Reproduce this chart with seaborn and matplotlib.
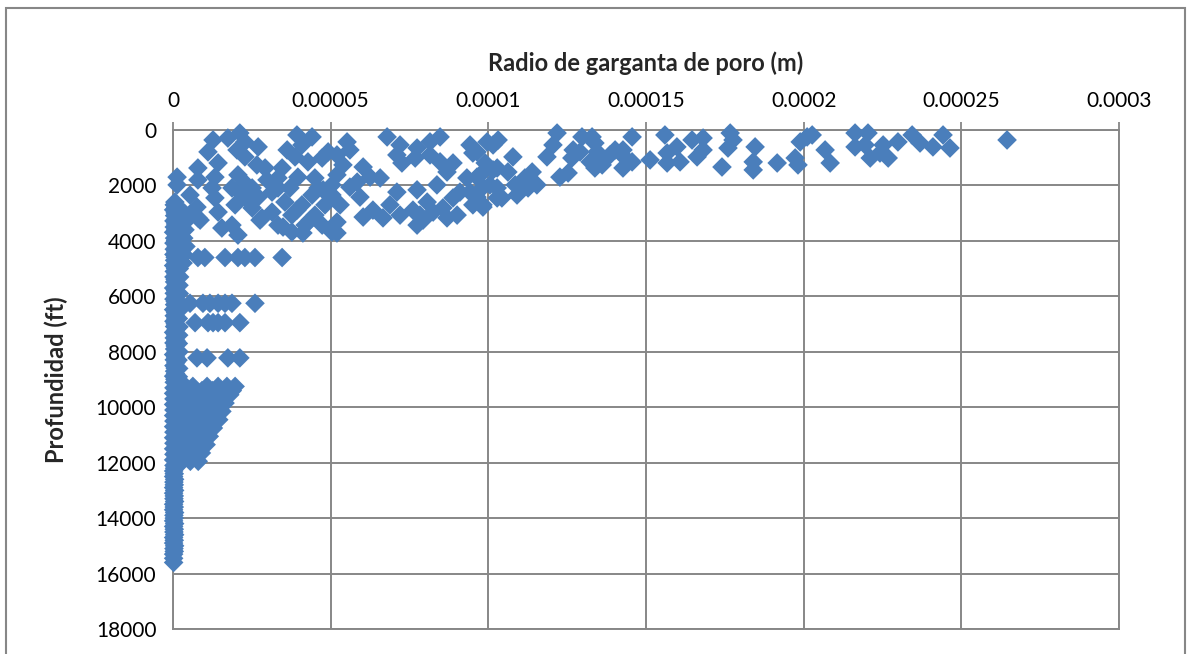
import numpy as np
import pandas as pd
import matplotlib
matplotlib.use("Agg")
import matplotlib.pyplot as plt
import matplotlib.patches as mpatches
import seaborn as sns

# ---------------- data (radius in micrometres, depth in ft) ----------------
shallow_r = [12.7, 17.4, 21.2, 22.8, 27.0, 20.3, 22.8, 11.1, 14.3, 1.3, 1.3, 7.9, 7.9, 13.3, 20.6,
             26.6, 29.2, 22.8, 34.6, 39.3, 40.9, 44.1, 36.2, 38.7, 42.8, 47.3, 49.2, 33.3, 39.6, 45.0,
             29.8,
             67.9, 55.2, 56.1, 52.0, 53.9, 60.3, 62.5, 65.7, 58.4, 52.0, 72.0, 71.0, 72.6, 77.4, 76.8,
             81.5, 84.7, 81.5, 84.7, 86.9, 99.6, 94.2, 96.4, 101.5, 102.8, 98.3, 88.8, 95.1, 99.0, 96.4,
             103.1, 107.8, 106.2, 111.6, 113.9, 121.8, 120.5, 118.6, 122.7, 125.3, 126.5, 126.9, 129.1,
             129.7, 132.9, 133.8, 134.5, 132.3, 133.8, 136.1, 138.6, 140.2, 142.7, 143.4, 142.7, 145.6,
             145.6, 151.3, 101.5,
             156.0, 156.7, 156.7, 159.8, 160.8, 164.6, 166.2, 168.1, 168.1, 174.1, 176.7, 177.6, 176.0,
             184.6, 184.0, 184.0, 191.6, 197.3, 198.2, 198.9, 201.1,
             202.7, 206.8, 208.4, 216.3, 220.4, 216.3, 219.5, 221.1, 225.2, 224.2, 226.8, 229.9, 234.4,
             236.9, 241.0, 244.2, 246.4, 264.5]
shallow_d = [360, 290, 110, 430, 610, 720, 970, 790, 1190, 1700, 1980, 1370, 1800, 1700, 1620,
             1260, 1370, 1910, 1370, 180, 540, 250, 720, 970, 1150, 1010, 790, 1730, 1700, 1730,
             1800,
             250, 430, 720, 900, 1260, 1335, 1700, 1730, 1880, 1620, 540, 900, 1190, 650, 1010,
             900, 250, 430, 1150, 1515, 430, 540, 790, 540, 1370, 1515, 1190, 830, 1190, 1700,
             360, 970, 1515, 1730, 1515, 110, 540, 970, 1700, 1550, 1010, 720, 790,
             250, 250, 470, 790, 1150, 1370, 1260, 900, 720, 720, 1010, 1370, 1150,
             250, 1080, 1440,
             180, 830, 1190, 610, 1150, 360, 970, 290, 720, 1335, 110, 360, 650,
             610, 1150, 1440, 1190, 1010, 1260, 430, 250,
             180, 720, 1190, 110, 110, 610, 540, 1010, 540, 830, 1010, 430, 180,
             470, 610, 180, 650, 360]

mid_r = [5.4, 0.6, 7.6, 7.9, 12.4, 13.3, 14.3, 15.5, 18.7, 19.7, 21.9, 18.7, 20.6, 25.1, 25.1,
         27.0, 28.2, 31.4, 31.4, 33.3, 35.5, 37.1, 37.7, 37.7, 40.9, 41.9, 44.1, 45.0, 47.3, 48.2,
         50.4, 50.4, 46.0, 33.3, 23.5, 34.9, 39.3, 41.2, 43.5, 47.6, 27.6, 8.6,
         50.4, 53.0, 59.3, 60.3, 63.4, 66.6, 71.0, 68.8, 72.0, 52.0, 52.0, 77.4, 78.3, 77.4, 80.6,
         83.7, 82.5, 85.6, 86.9, 90.1, 88.8, 91.0, 93.2, 94.2, 95.1, 98.3, 100.5, 102.8, 56.1,
         76.1, 79.3, 96.4, 98.3,
         102.8, 104.3, 108.5, 109.1, 112.6, 115.4, 98.3]
mid_d = [2345, 2600, 2780, 3170, 2090, 2450, 2960, 3535, 2090, 2700, 2345, 3430, 3790, 2090, 2810,
         2420, 3170, 2240, 2960, 3430, 2600, 2090, 3070, 3680, 2700, 3430, 2345, 3070, 3430, 2700,
         1980, 3680, 2090, 2090, 2525, 3500, 2890, 3715, 3250, 2160, 3250, 3250,
         2345, 2700, 2420, 3140, 2890, 3170, 2240, 2700, 3070, 3715, 3320, 2160, 3070, 3430, 2600,
         1980, 2960, 2810, 3170, 3070, 2450, 2240, 1730, 2240, 2700, 2700, 1980, 2450, 2060,
         2890, 3250, 2420, 2060,
         2090, 2450, 1980, 2345, 2090, 1980, 2780]

row_r = [7.9, 10.1, 16.5, 20.6, 22.8, 26.0, 34.6,
         5.4, 9.5, 11.7, 14.3, 16.5, 18.7, 26.0,
         7.0, 11.1, 12.7, 14.3, 16.5, 21.2,
         7.6, 10.8, 17.4, 21.2]
row_d = [4600, 4600, 4600, 4600, 4600, 4600, 4600,
         6250, 6250, 6250, 6250, 6250, 6250, 6250,
         6950, 6950, 6950, 6950, 6950, 6950,
         8220, 8220, 8220, 8220]

column_r = [0.4, 0.2, 0.5, 0.3, 0.4, 0.2, 0.5, 0.3, 0.4, 0.3, 0.5, 0.2, 0.4, 0.3, 0.5, 0.2, 0.4,
            0.3, 0.5, 0.2, 0.4, 0.3, 0.5, 0.2, 0.4, 0.3, 0.5, 0.2, 0.4, 0.3, 0.5, 0.2, 0.4, 0.3,
            0.2, 0.3, 0.2, 0.3, 0.2, 0.3, 0.2, 0.3, 0.2, 0.3, 0.2, 0.3, 0.2, 0.3, 0.2, 0.2, 0.3,
            0.2, 0.2, 0.3, 0.2, 0.2, 0.3, 0.2, 0.2, 0.3, 0.2, 0.2, 0.3, 0.2, 0.2, 0.2]
column_d = [2700, 2880, 3090, 3280, 3500, 3690, 3900, 4080, 4300, 4490, 4700, 4890, 5100, 5300,
            5480, 5700, 5890, 6100, 6300, 6480, 6700, 6900, 7090, 7300, 7500, 7680, 7900, 8100,
            8290, 8500, 8700, 8880, 9100, 9300, 9500, 9700, 9900, 10100, 10300, 10500, 10700,
            10900, 11100, 11300, 11500, 11700, 11900, 12100, 12300, 12500, 12700, 12900, 13100,
            13300, 13500, 13700, 13900, 14100, 14300, 14500, 14700, 14900, 15100, 15300, 15450,
            15600]

column3_r = [0.9, 0.7, 1.0, 0.8, 0.9, 1.1, 0.8, 1.0, 0.9, 0.7, 1.0, 0.8, 0.9, 0.7, 1.0, 0.8,
             0.9, 0.7, 1.0, 0.8, 0.9, 0.7, 1.0, 0.8, 0.9, 0.7, 1.0, 0.8, 0.9, 0.7, 0.8, 0.6,
             0.5, 0.4, 0.5, 0.4, 0.5, 0.4, 0.5, 0.4, 0.5, 0.4, 0.5, 0.4, 0.5, 0.4, 0.5, 0.4]
column3_d = [2790, 2990, 3190, 3390, 3590, 3790, 3990, 4190, 4390, 4590, 4790, 4990, 5190, 5390,
             5590, 5790, 5990, 6190, 6390, 6590, 6790, 6990, 7190, 7390, 7590, 7790, 7990, 8190,
             8390, 8590, 8790, 8990, 12200, 12400, 12600, 12800, 13000, 13200, 13400, 13600,
             13800, 14000, 14200, 14400, 14600, 14800, 15000, 15200]

column2_r = [2.6, 2.4, 2.7, 2.5, 2.3, 2.6, 2.2, 2.0, 2.1, 1.9, 2.0, 1.8, 2.0, 1.7, 1.9, 1.8,
             1.7, 1.9, 1.6, 1.8, 1.7, 1.6, 3.6, 4.0, 3.8, 3.4, 4.1, 3.5, 3.2]
column2_d = [2900, 3200, 3500, 3800, 4100, 4400, 4700, 5000, 5300, 5600, 5900, 6200, 6500, 6800,
             7100, 7400, 7700, 8000, 8300, 8600, 8900, 9200, 3000, 3300, 3600, 3900, 4200, 4500,
             4800]

blob_r = [4.0, 6.3, 10.8, 14.3, 17.1, 19.7,
          1.2, 4.0, 7.5, 11.0, 14.5, 18.0,
          1.0, 4.0, 7.5, 11.0, 14.0, 16.5,
          1.2, 4.0, 7.0, 10.0, 13.0, 15.5,
          1.0, 4.0, 7.0, 10.0, 12.5, 14.5,
          1.2, 4.0, 7.0, 10.0, 12.8,
          1.0, 3.5, 6.5, 9.5, 11.5,
          1.2, 3.5, 6.5, 9.0, 10.5,
          0.8, 3.0, 6.0, 9.0,
          1.0, 3.0, 5.5, 8.0,
          2.5, 5.8, 9.2, 12.6, 16.0, 18.8,
          2.6, 5.8, 9.2, 12.5, 15.3,
          2.6, 5.5, 8.5, 11.5, 14.2,
          2.5, 5.5, 8.5, 11.3, 13.5,
          2.4, 5.3, 8.3, 11.2,
          2.3, 5.0, 8.0, 10.5,
          2.2, 5.0, 7.8, 9.8,
          2.0, 4.5, 7.2]
blob_d = [9250, 9250, 9250, 9250, 9250, 9250,
          9550, 9550, 9550, 9550, 9550, 9550,
          9850, 9850, 9850, 9850, 9850, 9850,
          10150, 10150, 10150, 10150, 10150, 10150,
          10450, 10450, 10450, 10450, 10450, 10450,
          10750, 10750, 10750, 10750, 10750,
          11050, 11050, 11050, 11050, 11050,
          11350, 11350, 11350, 11350, 11350,
          11650, 11650, 11650, 11650,
          11950, 11950, 11950, 11950,
          9400, 9400, 9400, 9400, 9400, 9400,
          9700, 9700, 9700, 9700, 9700,
          10000, 10000, 10000, 10000, 10000,
          10300, 10300, 10300, 10300, 10300,
          10600, 10600, 10600, 10600,
          10900, 10900, 10900, 10900,
          11200, 11200, 11200, 11200,
          11500, 11500, 11500]

x_ticks = [0, 0.00005, 0.0001, 0.00015, 0.0002, 0.00025, 0.0003]
x_tick_labels = ["0", "0.00005", "0.0001", "0.00015", "0.0002", "0.00025", "0.0003"]
y_ticks = [0, 2000, 4000, 6000, 8000, 10000, 12000, 14000, 16000, 18000]
y_tick_labels = ["0", "2000", "4000", "6000", "8000", "10000", "12000", "14000", "16000", "18000"]

x_title = "Radio de garganta de poro (m)"
y_title = "Profundidad (ft)"

# ---------------- build table ----------------
r_um = shallow_r + mid_r + row_r + column_r + column3_r + column2_r + blob_r
depth = shallow_d + mid_d + row_d + column_d + column3_d + column2_d + blob_d
df = pd.DataFrame({"radio": np.array(r_um) * 1e-6, "prof": depth})

# ---------------- style ----------------
sns.set_style("white")
plt.rcParams["font.family"] = ["Lato", "DejaVu Sans"]

grid_c = "#878787"
pt_c = "#4A7EBB"

fig = plt.figure(figsize=(11.88, 6.54), dpi=100)
ax = fig.add_axes([173 / 1188, 1 - 629 / 654, (1119 - 173) / 1188, (629 - 130) / 654])

sns.scatterplot(data=df, x="radio", y="prof", marker="D", s=100, color=pt_c,
                edgecolor="none", linewidth=0, ax=ax, zorder=3, legend=False,
                clip_on=False)

ax.set_xlim(0, 0.0003)
ax.set_ylim(18000, 0)
ax.xaxis.tick_top()
ax.xaxis.set_label_position("top")
ax.set_xticks(x_ticks)
ax.set_xticklabels(x_tick_labels)
ax.set_yticks(y_ticks)
ax.set_yticklabels(y_tick_labels)
ax.tick_params(axis="both", which="major", direction="out", length=6, width=1.3,
               color=grid_c, labelsize=15, labelcolor="black")
ax.tick_params(axis="x", pad=8)
ax.tick_params(axis="y", pad=6)

ax.grid(True, color=grid_c, linewidth=1.4, zorder=0)
ax.set_axisbelow(True)
for sp in ax.spines.values():
    sp.set_color(grid_c)
    sp.set_linewidth(1.4)

ax.set_xlabel(x_title, fontsize=17, fontweight="bold", labelpad=14)
ax.set_ylabel(y_title, fontsize=17, fontweight="bold", labelpad=20)

# outer chart border
border = mpatches.Rectangle((6 / 1188, -0.05), (1185 - 6) / 1188, 1.05 - 8 / 654,
                            transform=fig.transFigure, fill=False, edgecolor=grid_c,
                            linewidth=1.5, clip_on=False)
fig.patches.append(border)

fig.savefig("out.png", dpi=100, facecolor="white")
